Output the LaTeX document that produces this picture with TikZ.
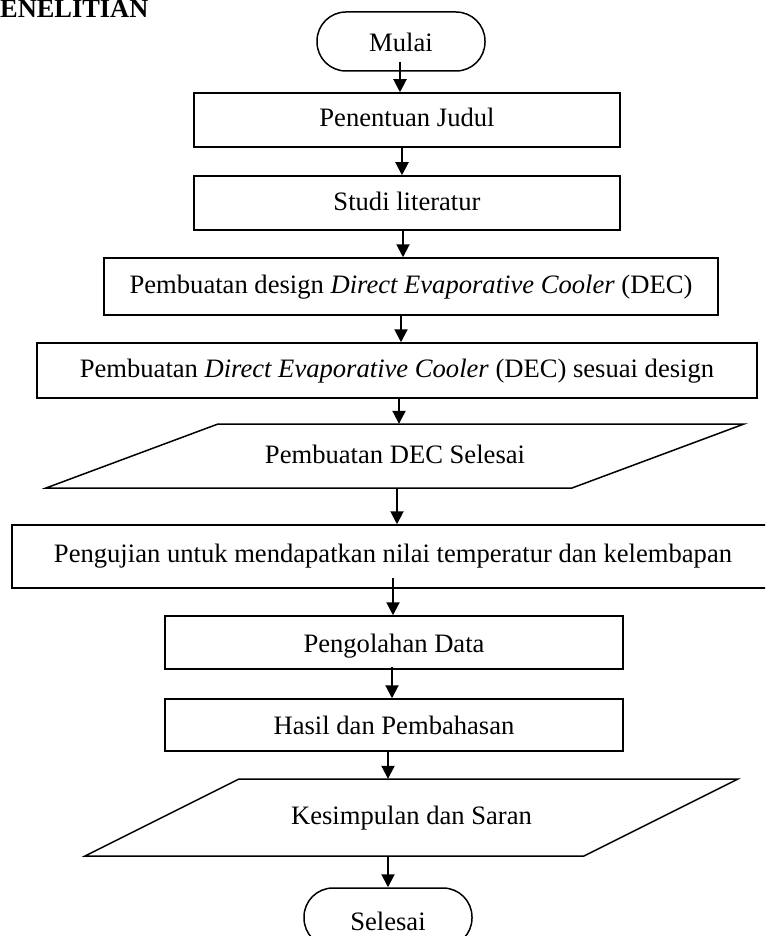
\documentclass[tikz,border=0pt]{standalone}
\usepackage{fontspec}
\setmainfont{Liberation Serif}
\usetikzlibrary{arrows.meta}
\tikzset{
  txt/.style={inner sep=0pt, text height=18pt, text depth=6pt, font=\fontsize{26.6}{30}\selectfont},
  proc/.style={txt, draw, line width=1.5pt},
  term/.style={proc, rounded corners=29pt},
  para/.style={draw, line width=1.5pt, line join=miter},
  arr/.style={-{Triangle[length=13pt,width=13pt]}, line width=2pt},
}
\begin{document}
\begin{tikzpicture}[x=1pt,y=-1pt]
\useasboundingbox (0,0) rectangle (765,936);
\clip (0,0) rectangle (765,936);
\fill[white] (0,0) rectangle (765,936);

\node[anchor=base west, inner sep=0pt, font=\fontsize{26.4}{30}\selectfont\bfseries] (title) at (0,18) {ENELITIAN};

\node[term, minimum width=168pt, minimum height=59pt, text height=27pt] (mulai) at (401,41.5) {Mulai};
\node[proc, minimum width=426pt, minimum height=54pt, text height=20pt] (judul) at (407,120) {Penentuan Judul};
\node[proc, minimum width=426pt, minimum height=54pt, text height=20pt] (studi) at (407,203) {Studi literatur};
\node[proc, minimum width=614pt, minimum height=57pt, text height=19pt] (design) at (411,286.5) {Pembuatan design \textit{Direct Evaporative Cooler} (DEC)};
\node[proc, minimum width=720pt, minimum height=55pt, text height=19pt] (dec) at (397,370.5) {Pembuatan \textit{Direct Evaporative Cooler} (DEC) sesuai design};
\node[txt, minimum width=300pt, minimum height=64pt, text height=20pt] (ps) at (395,456) {Pembuatan DEC Selesai};
\draw[para] (218,424) -- (744,424) -- (572,488) -- (46,488) -- cycle;
\node[proc, minimum width=762pt, minimum height=63pt, text height=17pt] (uji) at (393,556.5) {Pengujian untuk mendapatkan nilai temperatur dan kelembapan};
\node[proc, minimum width=458pt, minimum height=53pt, text height=25pt] (olah) at (394,642.5) {Pengolahan Data};
\node[proc, minimum width=458pt, minimum height=52pt, text height=24pt] (hasil) at (394,725) {Hasil dan Pembahasan};
\node[txt, minimum width=300pt, minimum height=77pt, text height=20pt] (ks) at (411.5,817.5) {Kesimpulan dan Saran};
\draw[para] (239,779) -- (738,779) -- (584,856) -- (85,856) -- cycle;
\node[term, minimum width=168pt, minimum height=59pt, text height=31pt] (selesai) at (388,917.5) {Selesai};

\coordinate (x1) at (400,0);
\coordinate (x2) at (402,0);
\coordinate (x3) at (403,0);
\coordinate (x4) at (401,0);
\coordinate (x5) at (399,0);
\coordinate (x6) at (397,0);
\coordinate (x7) at (393,0);
\coordinate (x8) at (392,0);
\coordinate (x9) at (388,0);

\draw[arr] ([yshift=10pt]mulai.south -| x1) -- (judul.north -| x1);
\draw[arr] (judul.south -| x2) -- (studi.north -| x2);
\draw[arr] (studi.south -| x3) -- (design.north -| x3);
\draw[arr] (design.south -| x4) -- (dec.north -| x4);
\draw[arr] (dec.south -| x5) -- (ps.north -| x5);
\draw[arr] (ps.south -| x6) -- (uji.north -| x6);
\draw[arr] ([yshift=11pt]uji.south -| x7) -- (olah.north -| x7);
\draw[arr] ([yshift=3pt]olah.south -| x8) -- (hasil.north -| x8);
\draw[arr] (hasil.south -| x9) -- (ks.north -| x9);
\draw[arr] (ks.south -| x9) -- (selesai.north -| x9);
\end{tikzpicture}
\end{document}
